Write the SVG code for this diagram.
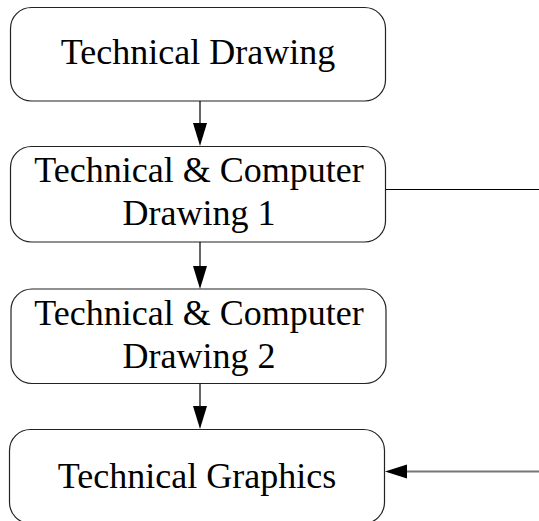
<svg xmlns="http://www.w3.org/2000/svg" width="539" height="521" viewBox="0 0 539 521">
<style>
.box{fill:#fff;stroke:#222;stroke-width:1.2}
.lbl{font-family:"Liberation Serif","Times New Roman",serif;font-size:36px;fill:#000;text-anchor:middle}
.con{fill:none;stroke:#000;stroke-width:1.2}
.con1{fill:none;stroke:#000;stroke-width:1}
.con2{fill:none;stroke:#777;stroke-width:2}
.head{fill:#000;stroke:none}
</style>
<rect width="539" height="521" fill="#fff"/>
<g id="node-technical-drawing">
<rect class="box" x="10.5" y="7.5" width="375" height="93.5" rx="21" ry="21"/>
<text class="lbl" x="198" y="64">Technical Drawing</text>
</g>
<g id="node-tcd1">
<rect class="box" x="10.5" y="146.5" width="375" height="95.5" rx="21" ry="21"/>
<text class="lbl" x="199" y="182">Technical &amp; Computer</text>
<text class="lbl" x="199" y="225">Drawing 1</text>
</g>
<g id="node-tcd2">
<rect class="box" x="11" y="289" width="375" height="94.5" rx="21" ry="21"/>
<text class="lbl" x="199" y="325">Technical &amp; Computer</text>
<text class="lbl" x="199" y="368">Drawing 2</text>
</g>
<g id="node-technical-graphics">
<rect class="box" x="9.5" y="429.5" width="375" height="94" rx="21" ry="21"/>
<text class="lbl" x="197" y="488">Technical Graphics</text>
</g>
<g id="connectors">
<line class="con" x1="200" y1="101" x2="200" y2="124"/>
<polygon class="head" points="193,123 207,123 200,146"/>
<line class="con" x1="200" y1="242" x2="200" y2="266"/>
<polygon class="head" points="193,266 207,266 200,289"/>
<line class="con" x1="200" y1="383.5" x2="200" y2="407"/>
<polygon class="head" points="193,406 207,406 200,429"/>
<line class="con1" x1="386" y1="189.5" x2="539" y2="189.5"/>
<line class="con2" x1="405" y1="471.5" x2="539" y2="471.5"/>
<polygon class="head" points="407,464.5 407,478.5 385,471.5"/>
</g>
</svg>
